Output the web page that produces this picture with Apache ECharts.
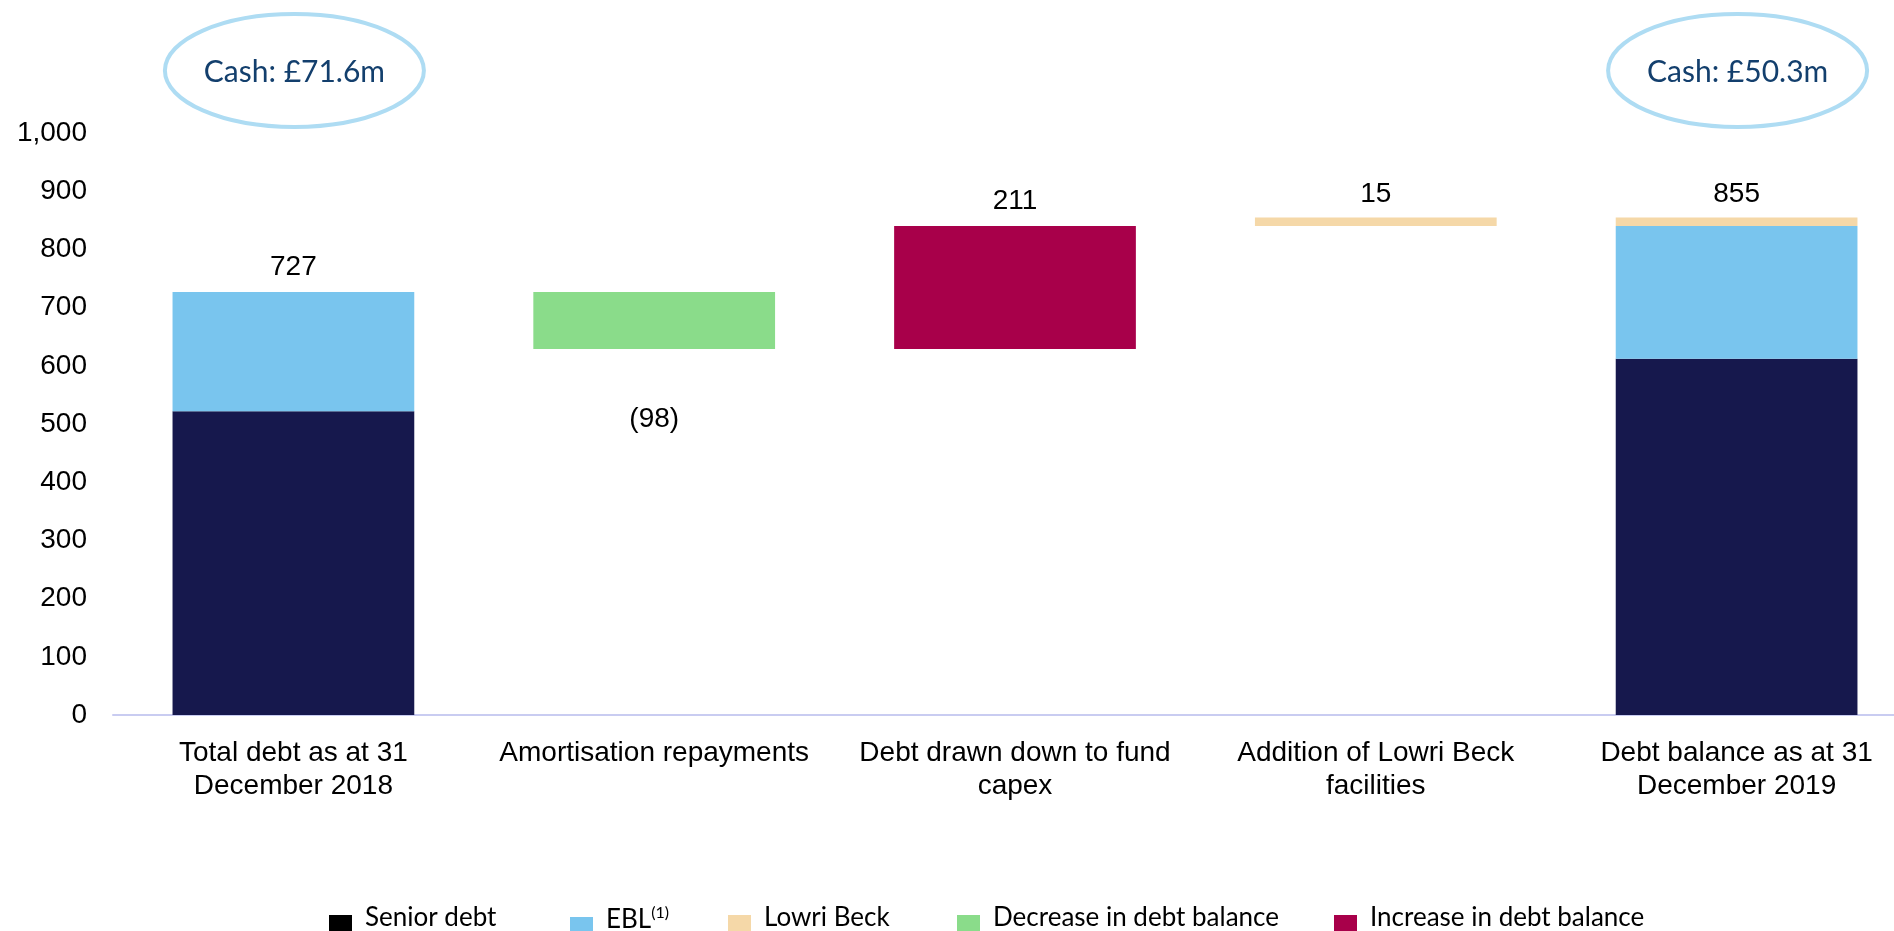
<!DOCTYPE html>
<html>
<head>
<meta charset="utf-8">
<script src="https://cdn.jsdelivr.net/npm/echarts@6/dist/echarts.min.js"></script>
<style>
  html, body { margin: 0; padding: 0; background: #ffffff; }
  #chart { width: 1894px; height: 931px; }
</style>
</head>
<body>
<div id="chart"></div>
<script>
// Debt bridge, 31 Dec 2018 -> 31 Dec 2019 (£m)
const categories = [
  'Total debt as at 31\nDecember 2018',
  'Amortisation repayments',
  'Debt drawn down to fund\ncapex',
  'Addition of Lowri Beck\nfacilities',
  'Debt balance as at 31\nDecember 2019'
];
const seniorDebt = [522, null, null, null, 612];
const ebl        = [205, null, null, null, 228];
const lowriBeck  = [null, null, null, 15, 15];
const decrease   = [null, 98, null, null, null];
const increase   = [null, null, 211, null, null];
const cashNotes  = ['Cash: £71.6m', 'Cash: £50.3m'];
const cashAt     = [0, 4];            // category index each cash note sits over
const yMin = 0, yMax = 1000, yStep = 100;

// Invisible floor under the movement bars (running balance)
const floor = [];
let running = 0;
categories.forEach((_, i) => {
  if (seniorDebt[i] != null) {
    floor.push(0);
    running = seniorDebt[i] + ebl[i] + (lowriBeck[i] || 0);
  } else if (decrease[i] != null) {
    running -= decrease[i];
    floor.push(running);
  } else {
    floor.push(running);
    running += (increase[i] || 0) + (lowriBeck[i] || 0);
  }
});
const stackTotal = i => (seniorDebt[i] || 0) + (ebl[i] || 0) + (lowriBeck[i] || 0);
const empty = v => (v == null ? '-' : v);

const COLORS = {
  senior: '#16184d',
  ebl: '#79c5ee',
  lowri: '#f5d8a8',
  down: '#8adc8a',
  up: '#a8004a'
};
const AXIS_FONT = 'Liberation Sans, Arial, sans-serif';
const NOTE_FONT = 'Lato, Carlito, Calibri, sans-serif';

const valueLabel = {
  show: true,
  position: 'top',
  distance: 11,
  color: '#000',
  fontFamily: AXIS_FONT,
  fontSize: 28
};

const legendBase = {
  top: 905,
  padding: 0,
  icon: 'rect',
  itemWidth: 23,
  itemHeight: 23,
  selectedMode: false,
  textStyle: {
    fontFamily: NOTE_FONT,
    fontSize: 26,
    color: '#000',
    padding: [0, 0, 17, 8],
    rich: {
      sup: { fontFamily: NOTE_FONT, fontSize: 16, color: '#000', padding: [0, 0, 14, 0] }
    }
  }
};
function legendAt(left, name, color) {
  return Object.assign({}, legendBase, {
    left: left,
    data: [{ name: name, itemStyle: { color: color } }],
    formatter: n => (n === 'EBL' ? 'EBL{sup|(1)}' : n)
  });
}

const chart = echarts.init(document.getElementById('chart'), null, { renderer: 'canvas' });

chart.setOption({
  animation: false,
  backgroundColor: '#ffffff',
  grid: { left: 113, right: -23, top: 133, bottom: 216, containLabel: false, outerBoundsMode: 'none' },
  legend: [
    legendAt(329, 'Senior debt', '#000000'),
    legendAt(570, 'EBL', COLORS.ebl),
    legendAt(728, 'Lowri Beck', COLORS.lowri),
    legendAt(957, 'Decrease in debt balance', COLORS.down),
    legendAt(1334, 'Increase in debt balance', COLORS.up)
  ],
  xAxis: {
    type: 'category',
    data: categories,
    axisLine: { show: true, lineStyle: { color: '#c9ccf1', width: 2 } },
    axisTick: { show: false },
    axisLabel: {
      interval: 0,
      margin: 22,
      color: '#000',
      fontFamily: AXIS_FONT,
      fontSize: 28,
      lineHeight: 33
    },
    splitLine: { show: false }
  },
  yAxis: {
    type: 'value',
    min: yMin,
    max: yMax,
    interval: yStep,
    axisLine: { show: false },
    axisTick: { show: false },
    splitLine: { show: false },
    axisLabel: {
      margin: 26,
      padding: [10, 0, 0, 0],
      color: '#000',
      fontFamily: AXIS_FONT,
      fontSize: 28,
      formatter: v => v.toLocaleString('en-GB')
    }
  },
  series: [
    {
      name: 'floor',
      type: 'bar',
      stack: 'debt',
      barCategoryGap: '33%',
      silent: true,
      itemStyle: { color: 'rgba(0,0,0,0)' },
      data: floor
    },
    {
      name: 'Senior debt',
      type: 'bar',
      stack: 'debt',
      itemStyle: { color: COLORS.senior },
      data: seniorDebt.map(empty)
    },
    {
      name: 'EBL',
      type: 'bar',
      stack: 'debt',
      itemStyle: { color: COLORS.ebl },
      label: Object.assign({}, valueLabel, {
        formatter: p => (p.dataIndex === 0 ? String(stackTotal(0)) : '')
      }),
      data: ebl.map(empty)
    },
    {
      name: 'Lowri Beck',
      type: 'bar',
      stack: 'debt',
      itemStyle: { color: COLORS.lowri },
      label: Object.assign({}, valueLabel, {
        distance: 9,
        formatter: p => (seniorDebt[p.dataIndex] != null ? String(stackTotal(p.dataIndex)) : String(p.value))
      }),
      data: lowriBeck.map(empty)
    },
    {
      name: 'Decrease in debt balance',
      type: 'bar',
      stack: 'debt',
      itemStyle: { color: COLORS.down },
      label: Object.assign({}, valueLabel, {
        position: 'bottom',
        distance: 56,
        formatter: p => '(' + p.value + ')'
      }),
      data: decrease.map(empty)
    },
    {
      name: 'Increase in debt balance',
      type: 'bar',
      stack: 'debt',
      itemStyle: { color: COLORS.up },
      label: Object.assign({}, valueLabel, { formatter: p => String(p.value) }),
      data: increase.map(empty)
    }
  ]
});

// Cash call-outs: ellipses centred over the opening and closing columns
const notes = [];
cashNotes.forEach((txt, k) => {
  const cx = chart.convertToPixel({ xAxisIndex: 0 }, cashAt[k]);
  notes.push({
    type: 'ellipse',
    shape: { cx: cx + 1, cy: 70.5, rx: 129.5, ry: 56.5 },
    style: { fill: '#ffffff', stroke: '#aedcf3', lineWidth: 4 },
    z: 10
  });
  notes.push({
    type: 'text',
    x: cx + 1,
    y: 72,
    style: {
      text: txt,
      fill: '#133f6d',
      fontFamily: NOTE_FONT,
      fontSize: 30,
      align: 'center',
      verticalAlign: 'middle'
    },
    z: 11
  });
});
chart.setOption({ graphic: notes });
</script>
</body>
</html>
